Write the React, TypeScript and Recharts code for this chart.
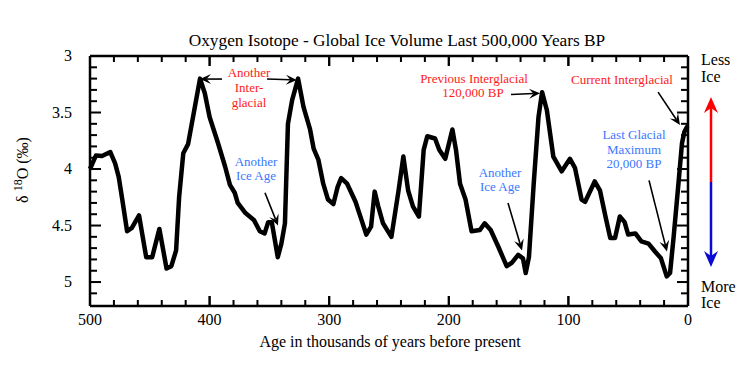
import React from 'react';
import {
  LineChart, Line, XAxis, YAxis, ReferenceLine,
} from 'recharts';

// ages in thousands of years BP
const ages = [
  500, 495, 490, 483, 479, 476, 473, 469, 465, 459, 453, 448, 442, 436, 432, 428, 425.5, 422, 418,
  408, 404, 400, 393, 387, 383, 379, 376.5, 370, 363, 358, 354, 351, 348, 343, 340, 337, 334.5, 331,
  326, 321.5, 316, 313, 309, 305, 301, 296.5, 293, 290, 285, 278, 273, 269, 265, 262, 259, 255, 248,
  242, 238, 234, 230, 225, 221, 218, 211.5, 208, 203, 197, 194, 190.6, 186, 181, 174, 170, 165,
  158.5, 151.6, 147.4, 142, 138, 135.7, 133, 129, 125, 122, 118, 112.6, 105.6, 98.7, 94.5, 89, 86,
  78, 73.6, 69, 65, 61, 57, 53, 50, 44, 39, 33, 27.6, 22.6, 17.8, 15, 12, 8, 5, 3, 1, 0,
];
const d18O = [
  4.0, 3.88, 3.885, 3.85, 3.95, 4.07, 4.27, 4.55, 4.52, 4.41, 4.78, 4.78, 4.53, 4.88, 4.86, 4.72, 4.25, 3.86, 3.78,
  3.2, 3.33, 3.54, 3.77, 3.98, 4.14, 4.21, 4.3, 4.39, 4.45, 4.55, 4.57, 4.47, 4.47, 4.78, 4.66, 4.48, 3.6, 3.39,
  3.2, 3.45, 3.65, 3.82, 3.92, 4.13, 4.27, 4.31, 4.16, 4.08, 4.13, 4.29, 4.45, 4.58, 4.51, 4.2, 4.33, 4.48, 4.6,
  4.19, 3.89, 4.19, 4.33, 4.42, 3.83, 3.71, 3.73, 3.83, 3.91, 3.65, 3.83, 4.13, 4.27, 4.55, 4.54, 4.48, 4.54,
  4.69, 4.86, 4.83, 4.76, 4.79, 4.92, 4.78, 4.13, 3.54, 3.32, 3.48, 3.89, 4.02, 3.91, 3.99, 4.27, 4.29,
  4.11, 4.19, 4.42, 4.61, 4.61, 4.42, 4.47, 4.58, 4.57, 4.64, 4.66, 4.73, 4.79, 4.95, 4.92, 4.6, 4.13, 3.77, 3.67, 3.63, 3.62,
];

const xTicks = [20, 40, 60, 80, 100, 120, 140, 160, 180, 200, 220, 240, 260, 280, 300, 320, 340, 360, 380, 400, 420, 440, 460, 480];
const xLabels = [0, 100, 200, 300, 400, 500];
const yTicks = [3.1, 3.2, 3.3, 3.4, 3.5, 3.6, 3.7, 3.8, 3.9, 4, 4.1, 4.2, 4.3, 4.4, 4.5, 4.6, 4.7, 4.8, 4.9, 5, 5.1];
const yLabels = [3, 3.5, 4, 4.5, 5];

// annotation arrows: [fromAge, fromVal, toAge, toVal]
const arrows = [
  [389.6, 3.204, 408, 3.204],
  [352, 3.204, 327, 3.212],
  [353.7, 4.21, 342.8, 4.5],
  [148, 3.34, 123.7, 3.33],
  [25, 3.32, 6.7, 3.61],
  [150.5, 4.3, 138.8, 4.72],
  [32.6, 4.1, 17.6, 4.73],
];

const data = ages.map((a, i) => ({ age: a, v: d18O[i] }));

const FONT = '"Liberation Serif", "Times New Roman", serif';
const RED = '#ff1a1a';
const BLUE = '#3a78ff';
const AXIS = { stroke: '#000', strokeWidth: 2.5 };
const X_DOMAIN: [number, number] = [0, 500];
const Y_DOMAIN: [number, number] = [3, 5.212];

// plot frame (margin + axis sizes below)
const PLOT = { left: 90, right: 688, top: 56, bottom: 306 };
const px = (age: number) => PLOT.right - (age - X_DOMAIN[0]) / (X_DOMAIN[1] - X_DOMAIN[0]) * (PLOT.right - PLOT.left);
const py = (v: number) => PLOT.top + (v - Y_DOMAIN[0]) / (Y_DOMAIN[1] - Y_DOMAIN[0]) * (PLOT.bottom - PLOT.top);

const isMajor = (list: number[], v: number) => list.some(l => Math.abs(l - v) < 1e-6);

// label-only ticks (outside the frame)
const xLabelTick = ({ x, y, payload }: any) => (
  <text x={x} y={y + 19} textAnchor="middle" fontSize={16} fontFamily={FONT} fill="#000">{payload.value}</text>
);
const yLabelTick = ({ x, y, payload }: any) => (
  <text x={x - 18} y={y} dy={5} textAnchor="end" fontSize={16} fontFamily={FONT} fill="#000">{payload.value}</text>
);

const ArrowShape = (p: any) => {
  const { x1, y1, x2, y2 } = p;
  if ([x1, y1, x2, y2].some(n => n == null || isNaN(n))) return null;
  const a = Math.atan2(y2 - y1, x2 - x1);
  const len = 11, w = 5;
  const bx = x2 - len * Math.cos(a), by = y2 - len * Math.sin(a);
  const nx = -Math.sin(a), ny = Math.cos(a);
  const mx = x2 - len * 0.6 * Math.cos(a), my = y2 - len * 0.6 * Math.sin(a);
  return (
    <g>
      <line x1={x1} y1={y1} x2={mx} y2={my} stroke="#000" strokeWidth={1.6} />
      <polygon
        points={`${x2},${y2} ${bx + nx * w},${by + ny * w} ${mx},${my} ${bx - nx * w},${by - ny * w}`}
        fill="#000"
      />
    </g>
  );
};

const txt = (x: number, y: number, s: string, color: string, size = 13, anchor: any = 'middle') => (
  <text x={x} y={y} fill={color} fontSize={size} fontFamily={FONT} textAnchor={anchor}>{s}</text>
);

// inward tick marks on all four sides of the frame, drawn as filled bars
function FrameTicks() {
  const xs = [...xTicks, ...xLabels.slice(1, -1)];
  const ys = [...yTicks, ...yLabels.slice(1)].filter((t, i, arr) => arr.indexOf(t) === i);
  return (
    <g>
      {xs.map(t => {
        const x = px(t), l = isMajor(xLabels, t) ? 10 : 6;
        return (
          <g key={`x${t}`}>
            <rect x={x - 1} y={PLOT.bottom - l} width={2} height={l} fill="#000" />
            <rect x={x - 1} y={PLOT.top} width={2} height={l} fill="#000" />
          </g>
        );
      })}
      {ys.map(t => {
        const y = py(t), l = isMajor(yLabels, t) ? 11 : 7;
        return (
          <g key={`y${t}`}>
            <rect x={PLOT.left} y={y - 1} width={l} height={2} fill="#000" />
            <rect x={PLOT.right - l} y={y - 1} width={l} height={2} fill="#000" />
          </g>
        );
      })}
    </g>
  );
}

export default function App() {
  return (
    <div style={{ position: 'fixed', left: 0, top: 0, width: 755, height: 380, background: '#fff' }}>
      <LineChart width={755} height={380} data={data} margin={{ top: 56, right: 67, bottom: 44, left: 50 }}>
        <XAxis dataKey="age" type="number" domain={X_DOMAIN} reversed ticks={xLabels} interval={0}
          height={30} tickSize={0} tickMargin={0} axisLine={AXIS} tickLine={false} tick={xLabelTick} />
        <XAxis xAxisId="tt" dataKey="age" orientation="top" mirror type="number" domain={X_DOMAIN} reversed
          height={12} axisLine={AXIS} tickLine={false} tick={false} />
        <YAxis type="number" domain={Y_DOMAIN} reversed ticks={yLabels} interval={0} allowDataOverflow
          width={40} tickSize={0} tickMargin={0} axisLine={AXIS} tickLine={false} tick={yLabelTick} />
        <YAxis yAxisId="rt" orientation="right" mirror type="number" domain={Y_DOMAIN} reversed allowDataOverflow
          width={12} axisLine={AXIS} tickLine={false} tick={false} />
        {arrows.map((a, i) => (
          <ReferenceLine key={i} segment={[{ x: a[0], y: a[1] }, { x: a[2], y: a[3] }]}
            ifOverflow="visible" shape={ArrowShape} />
        ))}
        <Line dataKey="v" type="linear" stroke="#000" strokeWidth={4.5} strokeLinejoin="round"
          dot={false} activeDot={false} isAnimationActive={false} />
      </LineChart>
      <svg width={755} height={380} style={{ position: 'absolute', left: 0, top: 0, pointerEvents: 'none' }}>
        {txt(397, 46, 'Oxygen Isotope - Global Ice Volume Last 500,000 Years BP', '#000', 17.3)}
        {txt(390, 347, 'Age in thousands of years before present', '#000', 16)}
        <text transform="translate(28,170) rotate(-90)" textAnchor="middle" fontSize={16} fontFamily={FONT} fill="#000">
          δ <tspan dy={-6} fontSize={12}>18</tspan><tspan dy={6}>O (‰)</tspan>
        </text>

        {txt(249, 77, 'Another', RED)}
        {txt(249, 92, 'Inter-', RED)}
        {txt(249, 107, 'glacial', RED)}
        {txt(256, 166, 'Another', BLUE)}
        {txt(256, 180, 'Ice Age', BLUE)}
        {txt(474, 83, 'Previous Interglacial', RED)}
        {txt(473, 97, '120,000 BP', RED)}
        {txt(622, 84, 'Current Interglacial', RED)}
        {txt(500, 177, 'Another', BLUE)}
        {txt(500, 191, 'Ice Age', BLUE)}
        {txt(634, 139, 'Last Glacial', BLUE)}
        {txt(634, 154, 'Maximum', BLUE)}
        {txt(634, 168, '20,000 BP', BLUE)}

        {txt(701, 65, 'Less', '#000', 16, 'start')}
        {txt(701, 82, 'Ice', '#000', 16, 'start')}
        {txt(701, 292, 'More', '#000', 16, 'start')}
        {txt(701, 308, 'Ice', '#000', 16, 'start')}
        <line x1={711} y1={182} x2={711} y2={106} stroke="#ff0000" strokeWidth={2.5} />
        <polygon points="711,97 704,113 711,108 718,113" fill="#ff0000" />
        <line x1={711} y1={182} x2={711} y2={258} stroke="#0a0ad2" strokeWidth={2.5} />
        <polygon points="711,267 704,251 711,256 718,251" fill="#0a0ad2" />
        <FrameTicks />
      </svg>
    </div>
  );
}
